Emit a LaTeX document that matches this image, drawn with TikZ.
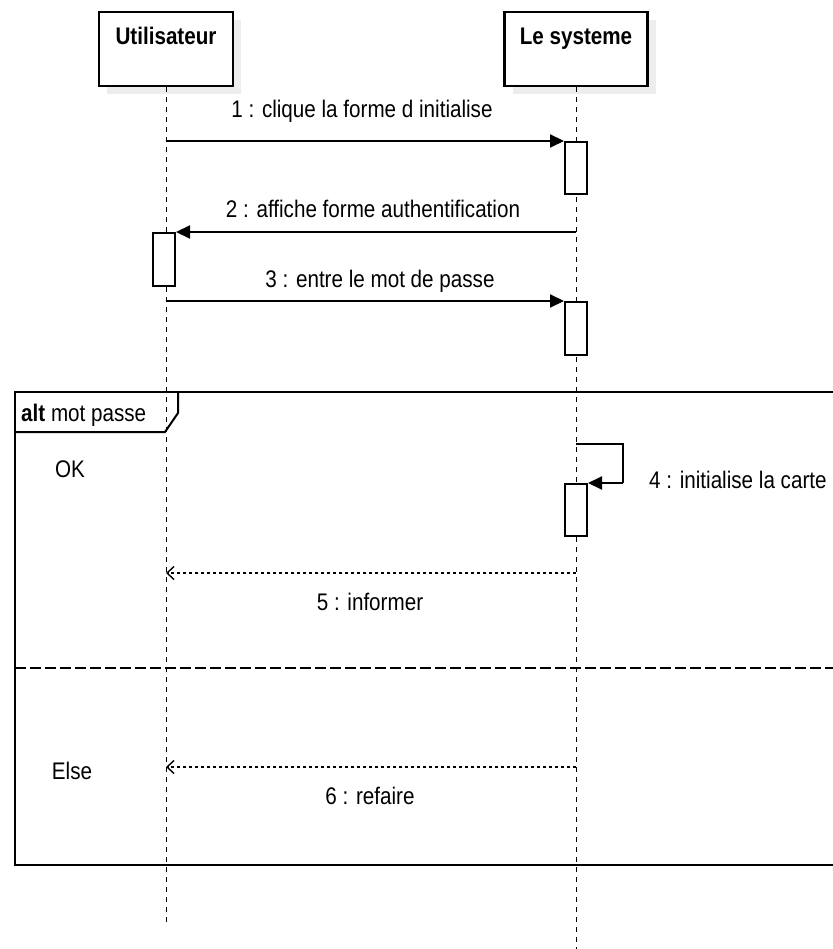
\documentclass[tikz,border=0pt]{standalone}
\usepackage{fontspec}
\setmainfont[FakeStretch=0.86]{Liberation Sans}
\usetikzlibrary{arrows.meta,calc}
\begin{document}
\begin{tikzpicture}[x=1pt,y=-1pt,
  txt/.style={font=\fontsize{24}{28}\selectfont,inner sep=0pt},
  boldtxt/.style={txt,font=\fontsize{24}{28}\selectfont\bfseries,anchor=base},
  actorbox/.style={draw,line width=2.2pt,fill=white,minimum height=74pt,inner sep=0pt},
  shadowbox/.style={fill=black!7,draw=none,minimum height=74pt,inner sep=0pt},
  lifeline/.style={line width=0.9pt,dash pattern=on 5pt off 5pt},
  actbox/.style={draw,line width=2pt,fill=white,minimum width=22pt,inner sep=0pt,anchor=north},
  syncmsg/.style={line width=2pt,-{Triangle[length=14pt,width=13pt]}},
  replymsg/.style={line width=2.2pt,dash pattern=on 3pt off 3pt,-{Straight Barb[length=7pt,width=13pt,line width=1.4pt]}},
  frame/.style={line width=2pt},
  guard/.style={line width=2pt,dash pattern=on 11pt off 4pt}
]
\useasboundingbox (0,0) rectangle (832,949);

% actors with their soft shadows
\node[shadowbox,minimum width=134pt] at (174,57) {};
\node[shadowbox,minimum width=143pt] at (584,57) {};
\node[actorbox,minimum width=134pt] (u) at (166,49) {};
\node[actorbox,minimum width=143pt] (s) at (576,49) {};
\node[boldtxt] at ($(u.north)+(0,34)$) {Utilisateur};
\node[boldtxt] at ($(s.north)+(0,34)$) {Le systeme};

% lifeline ends
\coordinate (uend) at (166,927);
\coordinate (send) at (576,949);
\draw[lifeline] (u.south) -- (uend);
\draw[lifeline] (s.south) -- (send);

% message rows on the lifelines
\coordinate (u1) at (166,141);
\coordinate (s2) at (576,232);
\coordinate (u3) at (166,301);
\coordinate (s4a) at (576,444);
\coordinate (s4b) at (623,444);
\coordinate (s4c) at (623,483);
\coordinate (s5) at (576,573);
\coordinate (u5) at (166,573);
\coordinate (s6) at (576,767);
\coordinate (u6) at (166,767);

% combined fragment
\draw[frame] (15,392) rectangle (840,865);
\draw[frame] (15,432) -- (165,432) -- (178,413) -- (178,392);
\node[txt,anchor=west] at (21,415) {\textbf{alt} mot passe};
\draw[guard] (15,668) -- (840,668);
\node[txt] at (70,469) {OK};
\node[txt] at (72,771) {Else};

% activation bars
\node[actbox,minimum height=52pt] (a1) at (576,141) {};
\node[actbox,minimum height=53pt] (a2) at (164,232) {};
\node[actbox,minimum height=53pt] (a3) at (576,301) {};
\node[actbox,minimum height=52pt] (a4) at (576,483) {};

% messages
\draw[syncmsg] (u1) -- (a1.north west);
\node[txt] at (362,111) {1 : clique la forme d initialise};
\draw[syncmsg] (s2) -- (a2.north east);
\node[txt] at (373,209) {2 : affiche forme authentification};
\draw[syncmsg] (u3) -- (a3.north west);
\node[txt] at (380,281) {3 : entre le mot de passe};
\draw[line width=2pt] (s4a) -- (s4b) -- (s4c);
\draw[syncmsg] (s4c) -- (a4.north east);
\node[txt,anchor=west] at (649,480) {4 : initialise la carte};
\draw[replymsg] (s5) -- (u5);
\node[txt] at (370,602) {5 : informer};
\draw[replymsg] (s6) -- (u6);
\node[txt] at (370,796) {6 : refaire};
\end{tikzpicture}
\end{document}
